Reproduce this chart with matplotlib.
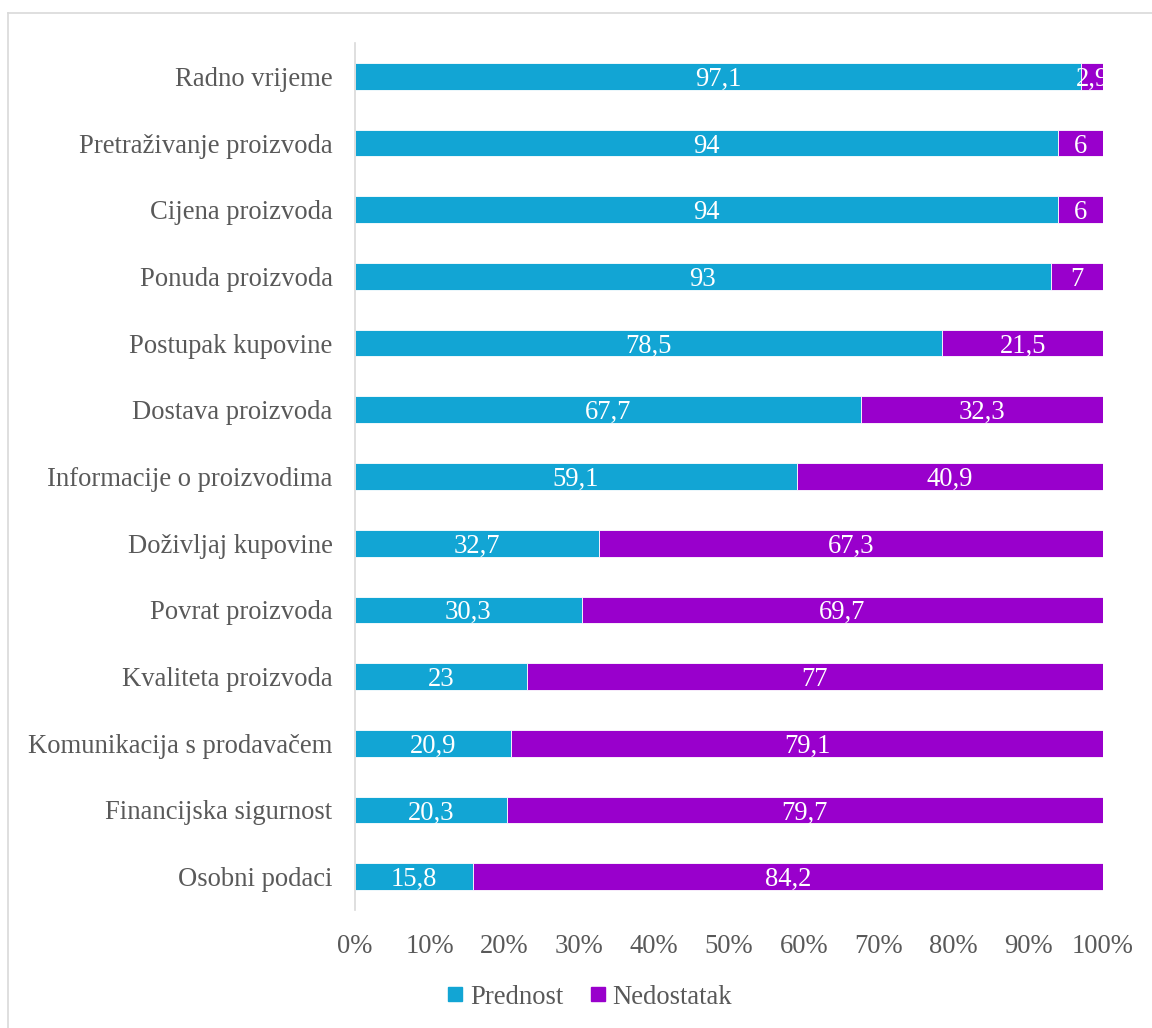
import matplotlib.pyplot as plt
from matplotlib.lines import Line2D
from matplotlib.ticker import FuncFormatter

categories = [
    "Radno vrijeme",
    "Pretraživanje proizvoda",
    "Cijena proizvoda",
    "Ponuda proizvoda",
    "Postupak kupovine",
    "Dostava proizvoda",
    "Informacije o proizvodima",
    "Doživljaj kupovine",
    "Povrat proizvoda",
    "Kvaliteta proizvoda",
    "Komunikacija s prodavačem",
    "Financijska sigurnost",
    "Osobni podaci",
]
prednost = [97.1, 94, 94, 93, 78.5, 67.7, 59.1, 32.7, 30.3, 23, 20.9, 20.3, 15.8]
nedostatak = [2.9, 6, 6, 7, 21.5, 32.3, 40.9, 67.3, 69.7, 77, 79.1, 79.7, 84.2]

BLUE = "#12A5D4"
PURPLE = "#9900CC"
GRAY = "#595959"

plt.rcParams["font.family"] = ["Liberation Serif", "DejaVu Serif"]
FS = 19.2


def fmt(v):
    return f"{v:g}".replace(".", ",")


fig = plt.figure(figsize=(11.52, 10.28), dpi=100)
ax = fig.add_axes([0.308, 0.1148, 0.6495, 0.8434])

y = list(range(len(categories)))[::-1]
ax.barh(y, prednost, height=0.4, color=BLUE, edgecolor="white", linewidth=0.6, label="Prednost")
ax.barh(y, nedostatak, left=prednost, height=0.4, color=PURPLE, edgecolor="white",
        linewidth=0.6, label="Nedostatak")

for yi, p, n in zip(y, prednost, nedostatak):
    ax.text(p / 2, yi, fmt(p), ha="center", va="center_baseline", color="white", fontsize=FS)
    ax.text(p + n / 2, yi, fmt(n), ha="center", va="center_baseline", color="white", fontsize=FS)

ax.set_xlim(0, 100)
ax.set_ylim(-0.5, len(categories) - 0.5)
ax.set_yticks(y)
ax.set_yticklabels(categories, fontsize=FS, color=GRAY)
ax.set_xticks(range(0, 101, 10))
ax.xaxis.set_major_formatter(FuncFormatter(lambda v, _: f"{v:.0f}%"))
ax.tick_params(axis="x", labelsize=FS, labelcolor=GRAY, length=0, pad=17)
ax.tick_params(axis="y", length=0, pad=16)
for s in ("top", "right", "bottom"):
    ax.spines[s].set_visible(False)
ax.spines["left"].set_color("#d9d9d9")
ax.spines["left"].set_linewidth(1.2)

handles = [
    Line2D([], [], marker="s", linestyle="none", markersize=10.5, color=BLUE, label="Prednost"),
    Line2D([], [], marker="s", linestyle="none", markersize=10.5, color=PURPLE, label="Nedostatak"),
]
leg = fig.legend(handles=handles, loc="center", bbox_to_anchor=(0.512, 0.030), ncol=2,
                 frameon=False, fontsize=FS, handlelength=0.6, handletextpad=0.25,
                 columnspacing=1.0)
for t in leg.get_texts():
    t.set_color(GRAY)

# outer chart frame (light gray)
fig.add_artist(Line2D([8 / 1152, 8 / 1152], [0, 1 - 13 / 1028], color="#d9d9d9", lw=1.2,
                      transform=fig.transFigure))
fig.add_artist(Line2D([8 / 1152, 1], [1 - 13 / 1028, 1 - 13 / 1028], color="#d9d9d9", lw=1.2,
                      transform=fig.transFigure))

fig.savefig("out.png")
